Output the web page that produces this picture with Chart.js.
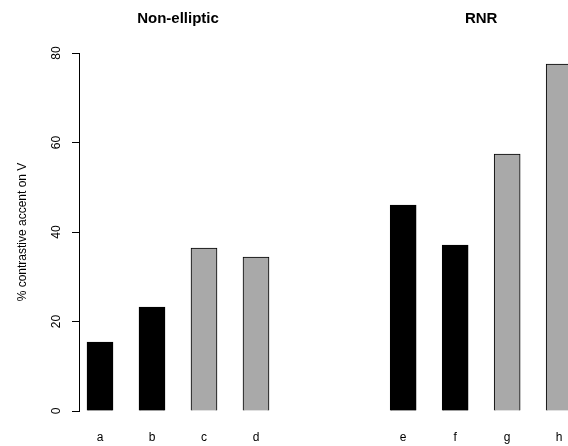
<!DOCTYPE html>
<html>
<head>
<meta charset="utf-8">
<script src="https://cdn.jsdelivr.net/npm/chart.js@4.4.0/dist/chart.umd.min.js"></script>
<style>
  html, body { margin: 0; padding: 0; background: #fff; }
  #wrap { width: 568px; height: 446px; }
</style>
</head>
<body>
<div id="wrap"><canvas id="barChart"></canvas></div>
<script>
// data
const categories = ["a", "b", "c", "d", "e", "f", "g", "h"];
const groupNames = ["Non-elliptic", "RNR"];
const accentPct = [15.4, 23.2, 36.4, 34.4, 46.0, 37.1, 57.4, 77.5];
const yTicks = [0, 20, 40, 60, 80];

// layout of the bars along x (4 bars per group, extra gap between groups)
const perGroup = 4;
const groupGap = 1.83;
const xPos = categories.map((c, i) => 1 + i + (i >= perGroup ? groupGap : 0));
const groupCenters = groupNames.map((g, k) => {
    const sl = xPos.slice(k * perGroup, (k + 1) * perGroup);
    return (sl[0] + sl[sl.length - 1]) / 2;
});

const BLACK = "#000000";
const GREY = "#a9a9a9";
const fills = categories.map((c, i) => (i % perGroup) < 2 ? BLACK : GREY);

const font = "'Liberation Sans', Arial, Helvetica, sans-serif";
Chart.defaults.font.family = font;
Chart.defaults.color = "#000";

// stop chart.js from reserving room for overflowing labels
const noPad = s => { s.paddingLeft = 0; s.paddingRight = 0; s.paddingTop = 0; s.paddingBottom = 0; };

new Chart(document.getElementById("barChart"), {
    type: "bar",
    data: {
        datasets: [{
            data: categories.map((c, i) => ({ x: xPos[i], y: accentPct[i] })),
            backgroundColor: fills,
            borderColor: "#000",
            borderWidth: 1,
            borderSkipped: "bottom",
            barThickness: 26
        }]
    },
    options: {
        responsive: true,
        maintainAspectRatio: false,
        animation: false,
        layout: { padding: 0 },
        plugins: {
            legend: { display: false },
            tooltip: { enabled: false }
        },
        scales: {
            x: {
                type: "linear",
                position: "bottom",
                offset: false,
                min: 0.596,
                max: 10.0,
                grid: { display: false, drawTicks: false },
                border: { display: false },
                afterBuildTicks: s => { s.ticks = xPos.map(v => ({ value: v })); },
                afterFit: s => { s.height = 35; noPad(s); },
                ticks: {
                    autoSkip: false,
                    maxRotation: 0,
                    padding: 19,
                    font: { size: 12 },
                    callback: (v, i) => categories[i]
                }
            },
            top: {
                type: "linear",
                position: "top",
                offset: false,
                min: 0.596,
                max: 10.0,
                grid: { display: false, drawTicks: false },
                border: { display: false },
                afterBuildTicks: s => { s.ticks = groupCenters.map(v => ({ value: v })); },
                afterFit: s => { s.height = 53; noPad(s); },
                ticks: {
                    autoSkip: false,
                    maxRotation: 0,
                    padding: 25,
                    font: { size: 15, weight: "bold" },
                    callback: (v, i) => groupNames[i]
                }
            },
            y: {
                min: 0,
                max: 80,
                afterBuildTicks: s => { s.ticks = yTicks.map(v => ({ value: v })); },
                afterFit: s => { s.width = 79; noPad(s); },
                grid: {
                    drawOnChartArea: false,
                    tickLength: 7,
                    color: "#000"
                },
                border: { display: true, color: "#000" },
                ticks: {
                    minRotation: 90,
                    maxRotation: 90,
                    crossAlign: "center",
                    padding: 9,
                    font: { size: 12 }
                },
                title: {
                    display: true,
                    text: "% contrastive accent on V",
                    font: { size: 12 },
                    padding: { top: 15, bottom: 0 }
                }
            }
        }
    }
});
</script>
</body>
</html>
